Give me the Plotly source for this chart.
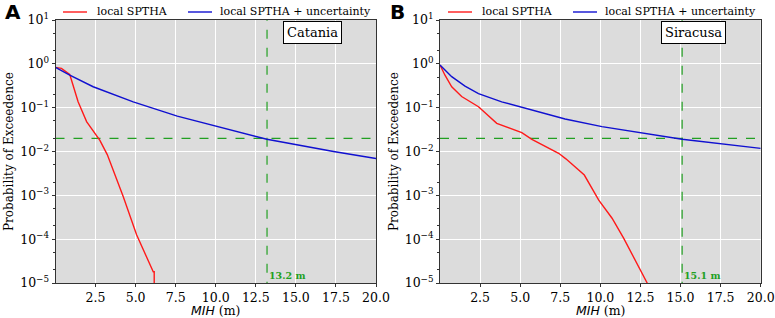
import plotly.graph_objects as go

# ---------------- data ----------------
# Panel A (Catania)
catania_red_x = [0.0, 0.37, 0.89, 1.41, 1.94, 2.46, 2.77, 3.23, 4.23, 5.06, 6.1, 6.16, 6.16]
catania_red_y = [0.83, 0.79, 0.57, 0.136, 0.048, 0.026, 0.018, 0.0085, 9.3e-4, 1.26e-4, 1.8e-5, 1.8e-5, 1e-6]
catania_blue_x = [0.0, 0.89, 2.35, 4.85, 7.6, 9.85, 13.19, 17.35, 20.0]
catania_blue_y = [0.83, 0.55, 0.30, 0.136, 0.064, 0.039, 0.019, 0.010, 0.0069]
catania_mih = 13.2

# Panel B (Siracusa)
siracusa_red_x = [0.0, 0.31, 0.73, 1.35, 2.4, 3.54, 5.1, 5.73, 7.4, 7.85, 9.0, 9.9, 10.73, 11.46, 12.92, 13.2]
siracusa_red_y = [0.94, 0.55, 0.30, 0.18, 0.105, 0.044, 0.027, 0.019, 0.0091, 0.0068, 0.0029, 7.8e-4, 3.0e-4, 1.04e-4, 1.0e-5, 6e-6]
siracusa_blue_x = [0.0, 0.73, 1.56, 2.4, 3.85, 5.52, 7.8, 10.1, 15.1, 20.0]
siracusa_blue_y = [0.94, 0.51, 0.31, 0.21, 0.136, 0.093, 0.055, 0.037, 0.019, 0.0118]
siracusa_mih = 15.1

threshold = 0.02
x_range = [0, 20]
x_ticks = [2.5, 5.0, 7.5, 10.0, 12.5, 15.0, 17.5, 20.0]
y_tick_vals = [1e-5, 1e-4, 1e-3, 1e-2, 1e-1, 1e0, 1e1]
y_tick_text = ["10<sup>−5</sup>", "10<sup>−4</sup>", "10<sup>−3</sup>", "10<sup>−2</sup>",
               "10<sup>−1</sup>", "10<sup>0</sup>", "10<sup>1</sup>"]
series_names = ["local SPTHA", "local SPTHA + uncertainty"]
panel_letters = ["A", "B"]
sites = ["Catania", "Siracusa"]

# ---------------- style ----------------
W, H = 775, 318
RED, BLUE, GREEN = "#ff1a1a", "#1010d0", "#22a022"
BG = "#dcdcdc"
SERIF = "DejaVu Serif"
FRAME = "#333333"

dom_x = [[55.5 / W, 376 / W], [440 / W, 760.7 / W]]
dom_y = [1 - 283 / H, 1 - 20 / H]
offsets = [0, 385]

fig = go.Figure()

panels = [
    (catania_red_x, catania_red_y, catania_blue_x, catania_blue_y, catania_mih),
    (siracusa_red_x, siracusa_red_y, siracusa_blue_x, siracusa_blue_y, siracusa_mih),
]

for i, (rx, ry, bx, by, mih) in enumerate(panels):
    xa = "x" if i == 0 else "x2"
    ya = "y" if i == 0 else "y2"
    off = offsets[i]
    # threshold lines (data-driven)
    fig.add_trace(go.Scatter(x=x_range, y=[threshold, threshold], mode="lines", showlegend=False,
                             hoverinfo="skip", line=dict(color=GREEN, width=1.2, dash="dash"),
                             xaxis=xa, yaxis=ya))
    fig.add_trace(go.Scatter(x=[mih, mih], y=[1e-6, 1e2], mode="lines", showlegend=False,
                             hoverinfo="skip", line=dict(color=GREEN, width=1.2, dash="dash"),
                             xaxis=xa, yaxis=ya))
    fig.add_trace(go.Scatter(x=rx, y=ry, mode="lines", name=series_names[0], showlegend=False,
                             line=dict(color=RED, width=1.4), xaxis=xa, yaxis=ya))
    fig.add_trace(go.Scatter(x=bx, y=by, mode="lines", name=series_names[1], showlegend=False,
                             line=dict(color=BLUE, width=1.4), xaxis=xa, yaxis=ya))
    fig.add_annotation(xref=xa, yref=ya + " domain", x=mih, y=0.0, xanchor="left", yanchor="bottom",
                       xshift=0, yshift=0, text=f"<b>{mih} m</b>", showarrow=False,
                       font=dict(family=SERIF, size=9.5, color=GREEN))
    # site box
    fig.add_annotation(xref=xa + " domain", yref=ya + " domain", x=0.893, y=0.997,
                       xanchor="right", yanchor="top", text=sites[i], showarrow=False,
                       font=dict(family=SERIF, size=13, color="black"),
                       bgcolor="white", bordercolor="black", borderwidth=1, borderpad=3)
    # panel letter
    fig.add_annotation(xref="paper", yref="paper", x=(3 + off) / W, y=1 - 12 / H,
                       xanchor="left", yanchor="middle", text=f"<b>{panel_letters[i]}</b>",
                       showarrow=False, font=dict(family="DejaVu Sans", size=20, color="black"))
    # manual legend
    for (l0, l1, tx), name, col in zip([(63, 87, 95), (188, 212, 218)], series_names, [RED, BLUE]):
        fig.add_shape(type="line", xref="paper", yref="paper", x0=(l0 + off) / W, x1=(l1 + off) / W,
                      y0=1 - 12 / H, y1=1 - 12 / H, line=dict(color=col, width=1.4))
        fig.add_annotation(xref="paper", yref="paper", x=(tx + off) / W, y=1 - 12 / H,
                           xanchor="left", yanchor="middle", text=name, showarrow=False,
                           font=dict(family=SERIF, size=11, color="black"))
    # axis titles
    cx = (dom_x[i][0] + dom_x[i][1]) / 2
    fig.add_annotation(xref="paper", yref="paper", x=cx, y=1 - 310 / H, xanchor="center",
                       yanchor="middle", showarrow=False,
                       text="<i><span style='font-family:DejaVu Sans'>MIH</span></i> (m)",
                       font=dict(family=SERIF, size=12.5, color="black"))
    fig.add_annotation(xref="paper", yref="paper", x=(9.5 + off) / W,
                       y=(dom_y[0] + dom_y[1]) / 2, xanchor="center", yanchor="middle",
                       textangle=-90, showarrow=False, text="Probability of Exceedence",
                       font=dict(family=SERIF, size=12, color="black"))

axis_common = dict(showline=True, mirror=True, linecolor=FRAME, linewidth=1,
                   ticks="outside", ticklen=3, tickcolor=FRAME,
                   gridcolor="white", gridwidth=1, zeroline=False, automargin=False,
                   tickfont=dict(family=SERIF, size=12.5, color="black"))

for i in range(2):
    sfx = "" if i == 0 else "2"
    fig.layout["xaxis" + sfx] = dict(axis_common, domain=dom_x[i], range=x_range,
                                     tickvals=x_ticks, ticktext=[f"{v:.1f}" for v in x_ticks],
                                     anchor="y" + sfx)
    fig.layout["yaxis" + sfx] = dict(axis_common, domain=dom_y, type="log", range=[-5, 1],
                                     tickvals=y_tick_vals, ticktext=y_tick_text, anchor="x" + sfx,
                                     minor=dict(ticks="outside", ticklen=2, tickcolor=FRAME,
                                                showgrid=False))

fig.update_layout(
    width=W, height=H,
    margin=dict(l=0, r=0, t=0, b=0),
    paper_bgcolor="white",
    plot_bgcolor=BG,
    showlegend=False,
)

fig.write_html("out.html", config={"displayModeBar": False},
               post_script="document.body.style.margin='0';")
